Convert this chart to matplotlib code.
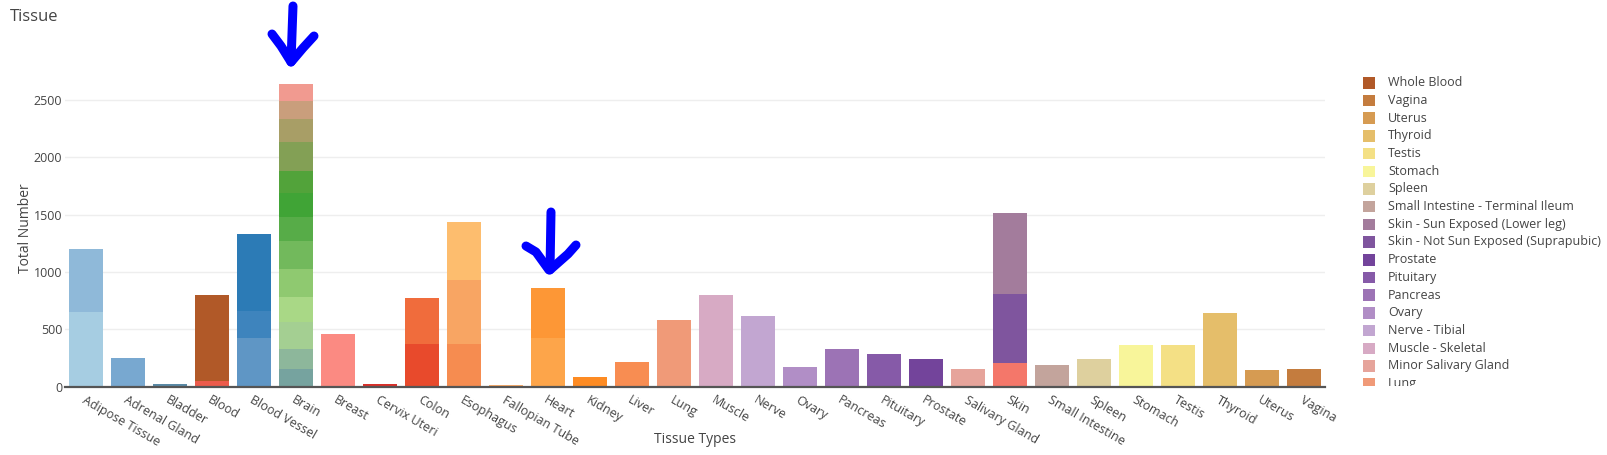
import matplotlib
matplotlib.use("Agg")
import matplotlib.pyplot as plt
from matplotlib.lines import Line2D
from matplotlib.patches import Rectangle
from matplotlib.transforms import Bbox, TransformedBbox

plt.rcParams['font.family'] = ['Open Sans', 'DejaVu Sans']

# ---- data ----
tissues = ["Adipose Tissue", "Adrenal Gland", "Bladder", "Blood", "Blood Vessel", "Brain",
           "Breast", "Cervix Uteri", "Colon", "Esophagus", "Fallopian Tube", "Heart",
           "Kidney", "Liver", "Lung", "Muscle", "Nerve", "Ovary", "Pancreas", "Pituitary",
           "Prostate", "Salivary Gland", "Skin", "Small Intestine", "Spleen", "Stomach",
           "Testis", "Thyroid", "Uterus", "Vagina"]

# sub-tissue series (stacked bottom to top within each tissue)
sub_tissue = ["Adipose - Subcutaneous", "Adipose - Visceral (Omentum)", "Adrenal Gland",
              "Bladder", "Cells - EBV-transformed lymphocytes", "Whole Blood",
              "Artery - Aorta", "Artery - Coronary", "Artery - Tibial",
              "Brain - Amygdala", "Brain - Anterior cingulate cortex (BA24)",
              "Brain - Caudate (basal ganglia)", "Brain - Cerebellar Hemisphere",
              "Brain - Cerebellum", "Brain - Cortex", "Brain - Frontal Cortex (BA9)",
              "Brain - Hippocampus", "Brain - Hypothalamus",
              "Brain - Nucleus accumbens (basal ganglia)", "Brain - Putamen (basal ganglia)",
              "Brain - Spinal cord (cervical c-1)", "Brain - Substantia nigra",
              "Breast - Mammary Tissue", "Cervix - Ectocervix", "Colon - Sigmoid",
              "Colon - Transverse", "Esophagus - Gastroesophageal Junction",
              "Esophagus - Mucosa", "Esophagus - Muscularis", "Fallopian Tube",
              "Heart - Atrial Appendage", "Heart - Left Ventricle", "Kidney - Cortex",
              "Liver", "Lung", "Muscle - Skeletal", "Nerve - Tibial", "Ovary", "Pancreas",
              "Pituitary", "Prostate", "Minor Salivary Gland", "Cells - Cultured fibroblasts",
              "Skin - Not Sun Exposed (Suprapubic)", "Skin - Sun Exposed (Lower leg)",
              "Small Intestine - Terminal Ileum", "Spleen", "Stomach", "Testis", "Thyroid",
              "Uterus", "Vagina"]
sub_parent = ["Adipose Tissue", "Adipose Tissue", "Adrenal Gland", "Bladder", "Blood", "Blood",
              "Blood Vessel", "Blood Vessel", "Blood Vessel",
              "Brain", "Brain", "Brain", "Brain", "Brain", "Brain", "Brain", "Brain", "Brain",
              "Brain", "Brain", "Brain", "Brain",
              "Breast", "Cervix Uteri", "Colon", "Colon", "Esophagus", "Esophagus", "Esophagus",
              "Fallopian Tube", "Heart", "Heart", "Kidney", "Liver", "Lung", "Muscle", "Nerve",
              "Ovary", "Pancreas", "Pituitary", "Prostate", "Salivary Gland", "Skin", "Skin",
              "Skin", "Small Intestine", "Spleen", "Stomach", "Testis", "Thyroid", "Uterus",
              "Vagina"]
sub_count = [654, 546, 247, 21, 47, 750,
             425, 238, 669,
             152, 174, 239, 220, 242, 247, 209, 210, 192, 253, 195, 163, 143,
             457, 22, 373, 401, 373, 555, 512, 12, 428, 433, 87, 218, 579, 797, 614,
             175, 326, 285, 242, 154, 207, 602, 707, 187, 241, 361, 361, 643, 143, 154]

sub_color = ["#a6cde2", "#8fb9d9", "#78a8d0", "#5a8aa6", "#ec5b4b", "#b15928",
             "#5f96c5", "#3e84bd", "#2c7bb6",
             "#76a39f", "#8db79b", "#a4cf92", "#a9d886", "#8fc970", "#72b95c", "#57ac48",
             "#40a436", "#52a33a", "#83a055", "#a89e66", "#c99e7c", "#f19a90",
             "#fb8a82", "#d9302a", "#e84a2c", "#f06c3c", "#f68c50", "#f8a563", "#fdbd6e",
             "#fdae6b", "#fda54a", "#fd9736", "#fd8b23", "#f88d52", "#f09a78", "#d7aac4",
             "#c2a6d1", "#b18ec6", "#9c73b5", "#865aa8", "#73449b", "#e6a49b", "#f4776a",
             "#7f559e", "#a37c9c", "#c3a49c", "#ded09e", "#f8f59a", "#f4e085", "#e5be6a",
             "#d69b52", "#c47c3e"]

# visible legend entries (reversed trace order, list is scrolled/clipped)
legend_names = ["Whole Blood", "Vagina", "Uterus", "Thyroid", "Testis", "Stomach", "Spleen",
                "Small Intestine - Terminal Ileum", "Skin - Sun Exposed (Lower leg)",
                "Skin - Not Sun Exposed (Suprapubic)", "Prostate", "Pituitary", "Pancreas",
                "Ovary", "Nerve - Tibial", "Muscle - Skeletal", "Minor Salivary Gland", "Lung"]

# ---- figure ----
W, H = 1608, 455
fig = plt.figure(figsize=(W / 100, H / 100), dpi=100)
ax_l, ax_r, ax_t, ax_b = 65, 1325, 69, 386.7
ax = fig.add_axes([ax_l / W, 1 - ax_b / H, (ax_r - ax_l) / W, (ax_b - ax_t) / H])

xpos = {t: i for i, t in enumerate(tissues)}
bottoms = {t: 0 for t in tissues}
for name, parent, val, col in zip(sub_tissue, sub_parent, sub_count, sub_color):
    x = xpos[parent]
    ax.bar(x, val, bottom=bottoms[parent], width=0.8, color=col,
           edgecolor='none', linewidth=0, label=name, zorder=2)
    bottoms[parent] += val

ax.set_xlim(-0.5, len(tissues) - 0.5)
ax.set_ylim(0, 2771)
ax.set_yticks([0, 500, 1000, 1500, 2000, 2500])
ax.grid(axis='y', color='#eeeeee', linewidth=1, zorder=0)
ax.set_axisbelow(True)
for s in ['top', 'right', 'left']:
    ax.spines[s].set_visible(False)
ax.spines['bottom'].set_color('#555555')
ax.spines['bottom'].set_linewidth(1.6)
ax.spines['bottom'].set_zorder(3)
ax.tick_params(axis='both', length=0, colors='#444444', labelsize=9)
ax.tick_params(axis='y', pad=2)
ax.set_xticks(range(len(tissues)))
ax.set_xticklabels(tissues, rotation=-30, ha='left', va='top', rotation_mode='anchor')
ax.tick_params(axis='x', pad=5)
ax.set_xlabel("Tissue Types", fontsize=10, color='#444444', labelpad=0)
ax.xaxis.set_label_coords(0.5, -(431.7 - ax_b) / (ax_b - ax_t), transform=ax.transAxes)
ax.set_ylabel("Total Number", fontsize=10, color='#444444')
ax.yaxis.set_label_coords(-(65 - 33) / (ax_r - ax_l), 0.5, transform=ax.transAxes)

fig.text(10 / W, 1 - 17 / H, "Tissue", fontsize=12, color='#444444', va='center', ha='left')

# ---- manual legend (scrolled, clipped) ----
col_by_name = dict(zip(sub_tissue, sub_color))
clip = TransformedBbox(Bbox([[1340 / W, 1 - 386 / H], [1.0, 1 - 60 / H]]), fig.transFigure)
y0, step = 82.7, 17.7
for i, nm in enumerate(legend_names):
    yc = y0 + i * step
    r = Rectangle((1363.5 / W, 1 - (yc + 5.8) / H), 11.5 / W, 11.5 / H,
                  transform=fig.transFigure, facecolor=col_by_name[nm], edgecolor='none')
    r.set_clip_box(clip)
    r.set_clip_on(True)
    fig.add_artist(r)
    t = fig.text(1388 / W, 1 - yc / H, nm, fontsize=9, color='#444444', va='center', ha='left')
    t.set_clip_box(clip)
    t.set_clip_on(True)

# ---- hand-drawn blue arrows ----
def stroke(pts, lw=9):
    xs = [p[0] / W for p in pts]
    ys = [1 - p[1] / H for p in pts]
    fig.add_artist(Line2D(xs, ys, transform=fig.transFigure, color='#0000ff', linewidth=lw * 0.72,
                          solid_capstyle='round', solid_joinstyle='round'))

stroke([(293, 6), (291, 62)])
stroke([(272, 34), (281, 46), (291, 62)])
stroke([(314, 36), (303, 48), (292, 61)])

stroke([(551, 212), (550, 270)])
stroke([(526, 246), (536, 252), (549, 270)])
stroke([(576, 245), (568, 254), (551, 269)])

fig.savefig("out.png", dpi=100)
